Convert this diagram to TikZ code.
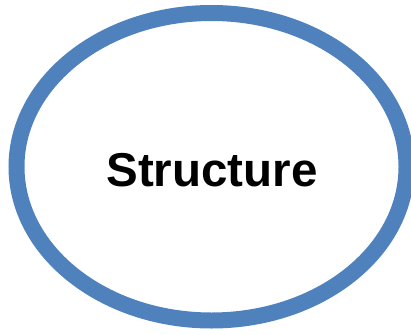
\documentclass[tikz,border=0pt]{standalone}
\usepackage{fontspec}
\setmainfont{Liberation Sans}
\usetikzlibrary{shapes.geometric}
\definecolor{ringblue}{HTML}{4F81BD}
\tikzset{ring/.style={ellipse, draw=ringblue, line width=16pt, fill=white, minimum width=390pt, minimum height=307.5pt, inner sep=0pt},
lbl/.style={font=\fontsize{47.5}{57}\selectfont\bfseries}}
\begin{document}
\begin{tikzpicture}[x=1pt,y=-1pt]
\useasboundingbox (0,0) rectangle (411,334);
\node[ring] (e) at (211.5,166.75) {};
\node[lbl, anchor=base] (t) at (212,186) {Structure};
\end{tikzpicture}
\end{document}
